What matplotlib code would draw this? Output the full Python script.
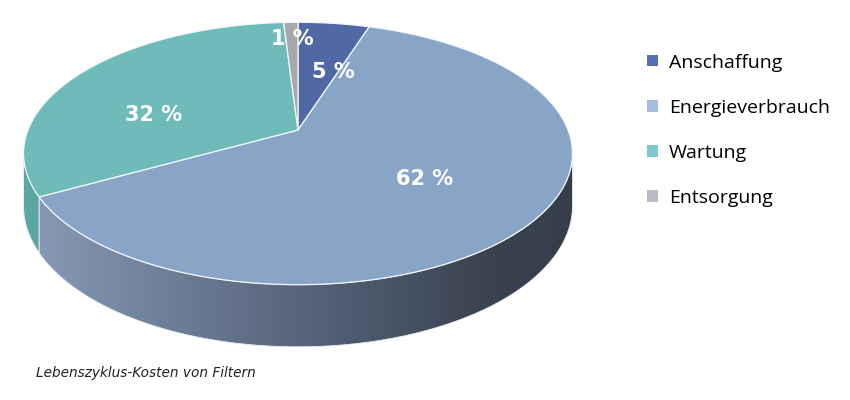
import numpy as np
import matplotlib.pyplot as plt
from matplotlib.patches import Polygon, Patch
from matplotlib.colors import LinearSegmentedColormap

# data
labels = ['Anschaffung', 'Energieverbrauch', 'Wartung', 'Entsorgung']
shares = [5, 62, 32, 1]
caption = 'Lebenszyklus-Kosten von Filtern'

# colours (pie faces are shaded darker than the legend keys)
top_colors = ['#5069a4', '#88a5c8', '#6fbbba', '#a7a8aa']
legend_colors = ['#5570b0', '#a3bde2', '#7dc9cf', '#b9bcc4']
wall_colors = ['#3e5088', 'gradient', '#5ca7a4', '#8a8b8d']

# pie geometry (pixels), simple perspective
cx, cy = 298, 130
rx, ry = 270, 127
k = 0.179
depth = 51
label_r = [0.52, 0.57, 0.56, 0.82]
label_shift = [-7, 0, 16, 0]   # degrees


def proj(t, down=0.0, r=1.0):
    c, s = r * np.cos(t), r * np.sin(t)
    f = 1 / (1 + k * s)
    return cx + rx * c * f, cy - ry * s * f + depth * down * f


fig = plt.figure(figsize=(8.5, 4), dpi=100)
ax = fig.add_axes([0, 0, 1, 1])
ax.set_xlim(0, 850)
ax.set_ylim(400, 0)
ax.axis('off')

# slice angles, clockwise from 12 o'clock
bounds = 90 - 360 * np.concatenate([[0], np.cumsum(shares)]) / 100.0

# visible front of the cylinder
edge = np.degrees(np.arcsin(k))
front_lo, front_hi = -180 + edge, -edge

wall_cmap = LinearSegmentedColormap.from_list(
    'wall', [(0, '#8598b4'), (0.5, '#56637a'), (0.85, '#39424f'), (1, '#363e4a')])

for i in range(len(shares)):
    a_start, a_end = bounds[i], bounds[i + 1]
    for off in (0, -360):
        lo = max(a_end, front_lo + off)
        hi = min(a_start, front_hi + off)
        if hi <= lo:
            continue
        t = np.radians(np.linspace(hi, lo, 200))
        xt, yt = proj(t)
        xb, yb = proj(t[::-1], down=1)
        pts = np.column_stack([np.r_[xt, xb], np.r_[yt, yb]])
        if wall_colors[i] == 'gradient':
            poly = Polygon(pts, closed=True, facecolor='none', edgecolor='#e8eef5', lw=0.6, zorder=2)
            ax.add_patch(poly)
            grad = np.linspace(0, 1, 256)[None, :]
            im = ax.imshow(grad, cmap=wall_cmap, aspect='auto',
                           extent=[pts[:, 0].min(), pts[:, 0].max(), pts[:, 1].max(), pts[:, 1].min()],
                           zorder=1)
            im.set_clip_path(poly)
        else:
            ax.add_patch(Polygon(pts, closed=True, facecolor=wall_colors[i],
                                 edgecolor='#e8eef5', lw=0.6, zorder=2))

# top faces
for i in range(len(shares)):
    t = np.radians(np.linspace(bounds[i], bounds[i + 1], 300))
    xt, yt = proj(t)
    pts = np.column_stack([np.r_[cx, xt], np.r_[cy, yt]])
    ax.add_patch(Polygon(pts, closed=True, facecolor=top_colors[i],
                         edgecolor='#f4f7fa', lw=0.9, zorder=3))

# value labels
for i, v in enumerate(shares):
    mid = np.radians((bounds[i] + bounds[i + 1]) / 2 + label_shift[i])
    lx, ly = proj(mid, r=label_r[i])
    ax.text(lx, ly, f'{v} %', color='white', fontsize=15, fontweight='bold',
            family='DejaVu Sans', ha='center', va='center', zorder=5)

handles = [Patch(facecolor=c, edgecolor='none') for c in legend_colors]
ax.legend(handles, labels, loc='upper left', bbox_to_anchor=(0.741, 0.91),
          frameon=False, handlelength=0.55, handleheight=0.55,
          handletextpad=0.55, labelspacing=1.39, prop={'family': 'Open Sans', 'size': 14})

ax.text(36, 373, caption, fontsize=9.8, style='italic', family='DejaVu Sans',
        ha='left', va='center', color='#222222')

fig.savefig('out.png', dpi=100)
